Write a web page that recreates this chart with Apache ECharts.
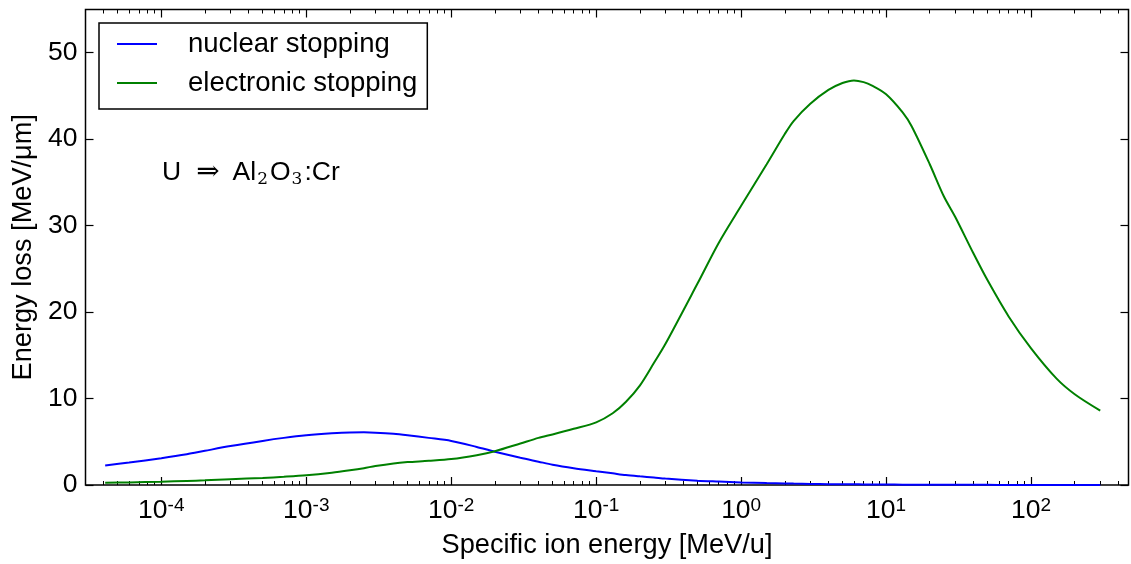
<!DOCTYPE html>
<html>
<head>
<meta charset="utf-8">
<script src="https://cdn.jsdelivr.net/npm/echarts@6/dist/echarts.min.js"></script>
<style>
html,body{margin:0;padding:0;background:#fff;}
#chart{width:1131px;height:564px;}
</style>
</head>
<body>
<div id="chart"></div>
<script>
// ---- data ----
const energyMeVu = [4.1e-5, 6e-5, 1e-4, 1.5e-4, 2e-4, 3e-4, 5e-4, 7e-4, 1e-3, 1.5e-3, 2e-3, 2.5e-3, 3e-3, 4e-3, 5e-3, 7e-3,
  1e-2, 1.5e-2, 2e-2, 3e-2, 4e-2, 5e-2, 7e-2, 0.1, 0.13, 0.16, 0.2, 0.25, 0.3, 0.5, 0.7, 1, 1.5, 2, 2.3, 3, 4, 5, 6, 7, 8,
  10, 13, 15, 20, 25, 30, 40, 50, 70, 100, 150, 200, 300];
const nuclearStopping = [2.25, 2.6, 3.1, 3.55, 3.95, 4.5, 5.1, 5.45, 5.75, 5.98, 6.08, 6.09, 6.05, 5.92, 5.75, 5.45,
  5.1, 4.4, 3.85, 3.15, 2.7, 2.35, 1.95, 1.6, 1.35, 1.15, 1.0, 0.87, 0.75, 0.5, 0.4, 0.3, 0.22, 0.18, 0.16, 0.13, 0.1, 0.09, 0.08, 0.07, 0.06,
  0.05, 0.04, 0.035, 0.03, 0.025, 0.02, 0.017, 0.015, 0.012, 0.01, 0.008, 0.006, 0.005];
const electronicStopping = [0.25, 0.3, 0.38, 0.47, 0.54, 0.66, 0.82, 0.95, 1.12, 1.42, 1.7, 1.95, 2.2, 2.5, 2.65, 2.8,
  3.0, 3.45, 3.9, 4.8, 5.45, 5.85, 6.5, 7.25, 8.3, 9.6, 11.5, 14.1, 16.3, 23.3, 28.0, 32.3, 37.1, 40.6, 42.1, 44.1, 45.7, 46.5, 46.8, 46.6, 46.2,
  45.2, 43.1, 41.5, 37.1, 33.4, 31.0, 26.8, 23.7, 19.5, 15.8, 12.3, 10.5, 8.6];
const seriesNames = ['nuclear stopping', 'electronic stopping'];
const xMajorTicks = [1e-4, 1e-3, 1e-2, 1e-1, 1, 10, 100];
const xMinorTicks = [4e-5,5e-5,6e-5,7e-5,8e-5,9e-5,
  2e-4,3e-4,4e-4,5e-4,6e-4,7e-4,8e-4,9e-4,
  2e-3,3e-3,4e-3,5e-3,6e-3,7e-3,8e-3,9e-3,
  2e-2,3e-2,4e-2,5e-2,6e-2,7e-2,8e-2,9e-2,
  0.2,0.3,0.4,0.5,0.6,0.7,0.8,0.9,
  2,3,4,5,6,7,8,9,
  20,30,40,50,60,70,80,90,
  200,300,400];
const yTicks = [0, 10, 20, 30, 40, 50];
const xMin = 3e-5, xMax = 470, yMin = 0, yMax = 55;

const FONT = 'Liberation Sans';
const pair = (xs, ys) => xs.map((x, i) => [x, ys[i]]);

function expLabel(v) {
  const e = Math.round(Math.log10(v));
  if (Math.abs(Math.log10(v) - e) > 1e-6) return '';
  return '{b|10}{s|' + e + '}';
}

const chart = echarts.init(document.getElementById('chart'), null, {renderer: 'canvas'});

const xBase = {
  type: 'log', logBase: 10, min: xMin, max: xMax,
  splitLine: {show: false}, axisLine: {show: false}, minorTick: {show: false}
};
const yBase = {
  type: 'value', min: yMin, max: yMax, interval: 10,
  splitLine: {show: false}, axisLine: {show: false}
};

chart.setOption({
  backgroundColor: '#fff',
  animation: false,
  textStyle: {fontFamily: FONT},
  grid: {left: 85.5, right: 2.5, top: 9.5, bottom: 76.5, show: true, borderColor: '#000', borderWidth: 1.5, backgroundColor: 'transparent'},
  legend: {
    orient: 'vertical', left: 99, top: 23,
    data: seriesNames,
    icon: 'rect', itemWidth: 40, itemHeight: 2, itemGap: 9,
    padding: [6, 10, 11, 18],
    borderColor: '#000', borderWidth: 1.5, backgroundColor: '#fff', borderRadius: 0,
    textStyle: {fontFamily: FONT, fontSize: 27.5, color: '#000', lineHeight: 30, padding: [0, 0, 0, 26]}
  },
  xAxis: [
    Object.assign({}, xBase, {
      position: 'bottom',
      name: 'Specific ion energy [MeV/u]', nameLocation: 'middle', nameGap: 47,
      nameTextStyle: {fontFamily: FONT, fontSize: 27.2, color: '#000'},
      axisTick: {show: true, inside: true, length: 8, lineStyle: {color: '#000', width: 1.2}, customValues: xMajorTicks},
      axisLabel: {show: true, margin: 11, formatter: expLabel, customValues: xMajorTicks,
        rich: {b: {fontFamily: FONT, fontSize: 26.5, color: '#000', lineHeight: 30},
               s: {fontFamily: FONT, fontSize: 19, color: '#000', verticalAlign: 'top', lineHeight: 21}}}
    }),
    Object.assign({}, xBase, {
      position: 'bottom',
      axisTick: {show: true, inside: true, length: 4, lineStyle: {color: '#000', width: 1}, customValues: xMinorTicks},
      axisLabel: {show: false}
    }),
    Object.assign({}, xBase, {
      position: 'top',
      axisTick: {show: true, inside: true, length: 8, lineStyle: {color: '#000', width: 1.2}, customValues: xMajorTicks},
      axisLabel: {show: false}
    }),
    Object.assign({}, xBase, {
      position: 'top',
      axisTick: {show: true, inside: true, length: 4, lineStyle: {color: '#000', width: 1}, customValues: xMinorTicks},
      axisLabel: {show: false}
    })
  ],
  yAxis: [
    Object.assign({}, yBase, {
      position: 'left',
      name: 'Energy loss [MeV/\u03bcm]', nameLocation: 'middle', nameGap: 46, nameRotate: 90,
      nameTextStyle: {fontFamily: FONT, fontSize: 27.2, color: '#000'},
      axisTick: {show: true, inside: true, length: 8, lineStyle: {color: '#000', width: 1.2}, customValues: yTicks},
      axisLabel: {show: true, margin: 8, fontFamily: FONT, fontSize: 26.5, color: '#000', customValues: yTicks}
    }),
    Object.assign({}, yBase, {
      position: 'right',
      axisTick: {show: true, inside: true, length: 8, lineStyle: {color: '#000', width: 1.2}, customValues: yTicks},
      axisLabel: {show: false}
    })
  ],
  series: [
    {
      name: seriesNames[0], type: 'line', xAxisIndex: 0, yAxisIndex: 0,
      data: pair(energyMeVu, nuclearStopping), smooth: 0.3, showSymbol: false, symbol: 'none',
      color: '#0000ff', lineStyle: {color: '#0000ff', width: 2}, itemStyle: {color: '#0000ff'}, z: 3
    },
    {
      name: seriesNames[1], type: 'line', xAxisIndex: 0, yAxisIndex: 0,
      data: pair(energyMeVu, electronicStopping), smooth: 0.3, showSymbol: false, symbol: 'none',
      color: '#008000', lineStyle: {color: '#008000', width: 2}, itemStyle: {color: '#008000'}, z: 3
    }
  ],
  graphic: [{
    type: 'text', left: 162, top: 158, z: 10,
    style: {
      text: '{a|U}{r|\u21d2}{a|Al}{s|2}{a|O}{s|3}{a|:Cr}',
      rich: {
        a: {fontFamily: FONT, fontSize: 26.5, fill: '#000', lineHeight: 32},
        r: {fontFamily: 'DejaVu Serif', fontSize: 28, fill: '#000', lineHeight: 32, padding: [0, 13, 0, 15]},
        s: {fontFamily: 'DejaVu Serif', fontSize: 17, fill: '#000', lineHeight: 32, padding: [13, 2, 0, 1]}
      }
    }
  }]
});
</script>
</body>
</html>
